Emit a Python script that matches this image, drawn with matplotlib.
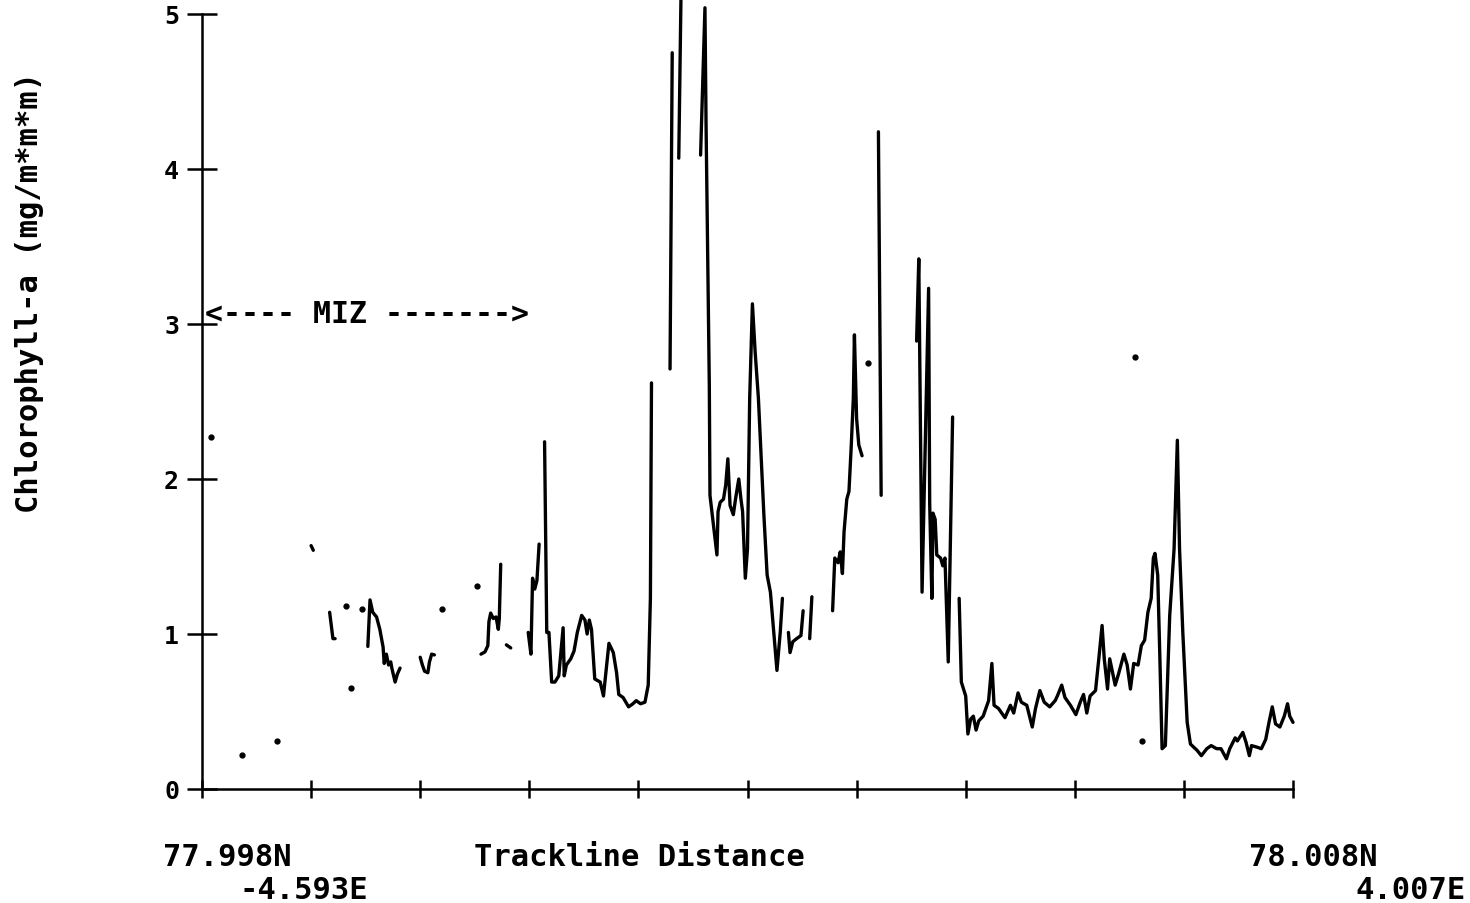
import numpy as np
import matplotlib
matplotlib.use('Agg')
import matplotlib.pyplot as plt

nan = np.nan

# trackline distance (tick units, 0..10) and chlorophyll-a; nan breaks the trace
dist = [1.17, 1.20, 1.22, nan,
        1.00, 1.02, nan,
        1.52, 1.54, 1.565, 1.60, 1.63, 1.66, 1.67, 1.69, 1.71, 1.73, 1.74, 1.77, 1.79, 1.815, nan,
        2.00, 2.02, 2.04, 2.07, 2.085, 2.105, 2.13, nan,
        2.557, 2.594, 2.62, 2.63, 2.646, 2.67, 2.695, 2.716, 2.725, 2.738, nan,
        2.79, 2.83, nan,
        2.99, 3.015, 3.03, 3.05, 3.07, 3.09, nan,
        3.14, 3.16, 3.18, 3.205, 3.235, 3.27, 3.31, 3.32,
        3.34, 3.38, 3.41, 3.44, 3.48, 3.51, 3.53, 3.55, 3.57, 3.60, 3.65, 3.68, 3.69, 3.73, 3.77,
        3.80, 3.82, 3.86, 3.91, 3.95, 3.98, 4.02, 4.06, 4.09, 4.11, 4.12, nan,
        4.29, 4.31, nan,
        4.37, 4.39, nan,
        4.57, 4.61, 4.62, 4.65, 4.656, 4.72, 4.73, 4.75, 4.78, 4.80, 4.82, 4.84, 4.87, 4.89, 4.92,
        4.94, 4.955, 4.98, 5.00, 5.02, 5.045, 5.07, 5.10, 5.15, 5.18, 5.21, 5.27, 5.30, 5.32, nan,
        5.375, 5.39, 5.415, 5.45, 5.49, 5.51, nan,
        5.57, 5.59, nan,
        5.78, 5.80, 5.83, 5.85, 5.87, 5.885, 5.91, 5.93, 5.95, 5.97, 5.98, 6.00, 6.02, 6.05, nan,
        6.20, 6.225, nan,
        6.55, 6.57, 6.60, 6.66, 6.67, 6.69, 6.70, 6.72, 6.735, 6.77, 6.79, 6.81, 6.84, 6.88, nan,
        6.94, 6.96, 7.00, 7.02, 7.045, 7.07, 7.095, 7.12, 7.16, 7.21, 7.24, 7.26, 7.30, 7.33, 7.36,
        7.41, 7.44, 7.48, 7.51, 7.56, 7.61, 7.64, 7.68, 7.72, 7.77, 7.82, 7.84, 7.88, 7.91, 7.96,
        8.01, 8.05, 8.08, 8.11, 8.14, 8.19, 8.22, 8.25, 8.27, 8.30, 8.32, 8.35, 8.37, 8.40, 8.45,
        8.48, 8.51, 8.54, 8.58, 8.61, 8.64, 8.67, 8.70, 8.72, 8.735, 8.76, 8.78, 8.80, 8.83, 8.87,
        8.91, 8.94, 8.96, 8.99, 9.03, 9.06, 9.12, 9.16, 9.21, 9.25, 9.30, 9.34, 9.39, 9.42, 9.47,
        9.49, 9.54, 9.57, 9.60, 9.62, 9.67, 9.71, 9.75, 9.78, 9.81, 9.84, 9.88, 9.92, 9.95, 9.97, 10.0]

chl = [1.14, 0.97, 0.97, nan,
       1.57, 1.54, nan,
       0.92, 1.22, 1.14, 1.11, 1.03, 0.915, 0.81, 0.87, 0.80, 0.82, 0.78, 0.69, 0.74, 0.78, nan,
       0.85, 0.80, 0.76, 0.75, 0.82, 0.87, 0.865, nan,
       0.87, 0.885, 0.925, 1.08, 1.135, 1.10, 1.11, 1.03, 1.10, 1.45, nan,
       0.93, 0.91, nan,
       1.01, 0.87, 1.36, 1.29, 1.345, 1.58, nan,
       2.24, 1.01, 1.01, 0.69, 0.69, 0.73, 1.04, 0.73,
       0.80, 0.84, 0.89, 1.01, 1.12, 1.09, 1.00, 1.09, 1.03, 0.71, 0.69, 0.60, 0.67, 0.94, 0.88,
       0.75, 0.61, 0.59, 0.53, 0.55, 0.57, 0.55, 0.56, 0.67, 1.23, 2.62, nan,
       2.71, 4.75, nan,
       4.07, 5.10, nan,
       4.09, 5.04, 4.30, 2.60, 1.895, 1.51, 1.79, 1.85, 1.87, 1.96, 2.13, 1.83, 1.77, 1.87, 2.00,
       1.87, 1.79, 1.36, 1.55, 2.52, 3.13, 2.82, 2.52, 1.77, 1.38, 1.27, 0.765, 1.01, 1.23, nan,
       1.01, 0.88, 0.95, 0.97, 0.99, 1.15, nan,
       0.97, 1.24, nan,
       1.15, 1.49, 1.46, 1.53, 1.39, 1.66, 1.87, 1.92, 2.20, 2.52, 2.93, 2.39, 2.22, 2.15, nan,
       4.24, 1.895, nan,
       2.89, 3.42, 1.27, 3.23, 1.84, 1.23, 1.78, 1.74, 1.51, 1.49, 1.44, 1.49, 0.82, 2.40, nan,
       1.23, 0.69, 0.60, 0.355, 0.45, 0.47, 0.38, 0.44, 0.47, 0.57, 0.81, 0.54, 0.52, 0.49, 0.46,
       0.54, 0.49, 0.62, 0.56, 0.54, 0.40, 0.52, 0.635, 0.56, 0.53, 0.57, 0.60, 0.67, 0.59, 0.54,
       0.48, 0.56, 0.61, 0.49, 0.60, 0.635, 0.84, 1.055, 0.84, 0.645, 0.84, 0.74, 0.67, 0.74, 0.87,
       0.80, 0.645, 0.81, 0.80, 0.925, 0.96, 1.14, 1.23, 1.49, 1.52, 1.38, 0.84, 0.26, 0.28, 1.12,
       1.55, 2.25, 1.55, 1.01, 0.43, 0.29, 0.25, 0.215, 0.26, 0.28, 0.26, 0.26, 0.195, 0.26, 0.33,
       0.31, 0.365, 0.30, 0.215, 0.28, 0.27, 0.26, 0.32, 0.43, 0.53, 0.42, 0.40, 0.47, 0.55, 0.47, 0.43]

# single readings plotted as dots
dot_dist = [0.08, 0.37, 0.69, 1.32, 1.37, 1.47, 2.20, 2.52, 6.10, 8.55, 8.62]
dot_chl = [2.27, 0.22, 0.31, 1.18, 0.65, 1.16, 1.16, 1.31, 2.75, 2.79, 0.31]

y_ticks = [0, 1, 2, 3, 4, 5]
x_ticks = list(range(11))

W, H = 1470, 904
fig = plt.figure(figsize=(W / 100, H / 100), dpi=100)
ax = fig.add_axes([202 / W, 1 - 790 / H, (1293 - 202) / W, (790 - 15) / H])

ax.plot(dist, chl, color='black', lw=2.4, solid_joinstyle='round', solid_capstyle='round',
        clip_on=False)
ax.plot(dot_dist, dot_chl, 'o', color='black', ms=3.5, clip_on=False)

ax.set_xlim(0, 10)
ax.set_ylim(0, 5)
for s in ['top', 'right']:
    ax.spines[s].set_visible(False)
for s in ['left', 'bottom']:
    ax.spines[s].set_linewidth(1.8)

mono = 'DejaVu Sans Mono'
ax.set_xticks(x_ticks)
ax.set_yticks(y_ticks)
ax.tick_params(axis='x', direction='inout', length=13, width=1.8, labelbottom=False)
ax.tick_params(axis='y', direction='inout', length=21, width=1.8, pad=6)
for lab in ax.get_yticklabels():
    lab.set_fontfamily(mono)
    lab.set_fontweight('bold')
    lab.set_fontsize(18)

ax.text(0.03, 3.07, '<---- MIZ ------->', family=mono, fontsize=21.5, fontweight='bold',
        ha='left', va='center', clip_on=False)

# labels under the axis
lbl = dict(family=mono, fontsize=22, fontweight='bold', va='center')
fig.text(163 / W, 1 - 858 / H, '77.998N', ha='left', **lbl)
fig.text(240 / W, 1 - 891 / H, '-4.593E', ha='left', **lbl)
fig.text(474 / W, 1 - 858 / H, 'Trackline Distance', ha='left', **lbl)
fig.text(1378 / W, 1 - 858 / H, '78.008N', ha='right', **lbl)
fig.text(1466 / W, 1 - 891 / H, '4.007E', ha='right', **lbl)

fig.text(30 / W, 1 - 293 / H, 'Chlorophyll-a (mg/m*m*m)', family=mono, fontsize=22,
         fontweight='bold', rotation=90, ha='center', va='center')

fig.savefig('out.png', dpi=100, facecolor='white')
